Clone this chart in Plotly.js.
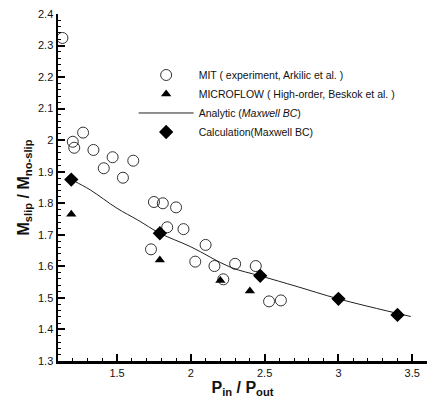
<!DOCTYPE html>
<html><head><meta charset="utf-8">
<script src="https://cdn.plot.ly/plotly-3.0.1.min.js"></script>
<style>body{margin:0;background:#fff}#c{width:446px;height:401px}</style>
</head><body><div id="c"></div>
<script>
// MIT experiment (Arkilic et al.)
const mitX = [1.13,1.27,1.20,1.21,1.34,1.47,1.41,1.61,1.54,1.75,1.81,1.90,1.84,1.95,1.73,2.10,2.03,2.16,2.22,2.30,2.44,2.53,2.61];
const mitY = [2.324,2.024,1.995,1.976,1.969,1.946,1.911,1.935,1.881,1.804,1.800,1.787,1.724,1.718,1.654,1.668,1.615,1.601,1.559,1.608,1.601,1.489,1.492];
// MICROFLOW (High-order, Beskok et al.)
const mfX = [1.19,1.79,2.20,2.40];
const mfY = [1.765,1.620,1.555,1.522];
// Analytic (Maxwell BC)
const anX = [1.19,1.22,1.32,1.50,1.64,1.79,2.00,2.27,2.47,2.72,3.00,3.49];
const anY = [1.876,1.868,1.842,1.784,1.747,1.705,1.662,1.597,1.570,1.536,1.497,1.441];
// Calculation (Maxwell BC)
const calX = [1.19,1.79,2.47,3.00,3.40];
const calY = [1.875,1.705,1.570,1.497,1.446];

const traces = [
  {x: mitX, y: mitY, type:'scatter', mode:'markers', name:'MIT ( experiment, Arkilic et al. )',
   marker:{symbol:'circle-open', size:11, color:'#333', line:{width:1}}},
  {x: mfX, y: mfY, type:'scatter', mode:'markers', name:'MICROFLOW ( High-order, Beskok et al. )',
   marker:{symbol:'triangle-up', size:9, color:'#000'}},
  {x: anX, y: anY, type:'scatter', mode:'lines', name:'Analytic (<i>Maxwell BC</i>)',
   line:{color:'#222', width:1, shape:'spline'}},
  {x: calX, y: calY, type:'scatter', mode:'markers', name:'Calculation(Maxwell BC)',
   marker:{symbol:'diamond', size:11, color:'#000'}}
];

const layout = {
  width:446, height:401,
  margin:{l:58, r:19, t:14, b:40},
  paper_bgcolor:'#fff', plot_bgcolor:'#fff',
  font:{family:'Liberation Sans, Arial, sans-serif', color:'#111', size:11},
  showlegend:true,
  legend:{x:0.205, y:0.866, xanchor:'left', yanchor:'top', bgcolor:'rgba(0,0,0,0)',
          font:{size:10.5}, itemwidth:55, tracegroupgap:0},
  xaxis:{range:[1.1,3.6], dtick:0.5, tick0:1.5, showgrid:false, zeroline:false,
         showline:true, linewidth:2.5, linecolor:'#000',
         ticks:'inside', ticklen:7, tickwidth:2, tickcolor:'#000',
         minor:{dtick:0.1, ticks:'inside', ticklen:3, tickwidth:1, tickcolor:'#000'},
         tickfont:{size:11},
         title:{text:'<b>P<sub>in</sub> / P<sub>out</sub></b>', font:{size:16}, standoff:0}},
  yaxis:{range:[1.3,2.4], dtick:0.1, showgrid:false, zeroline:false,
         showline:true, linewidth:2.5, linecolor:'#000',
         ticks:'inside', ticklen:7, tickwidth:2, tickcolor:'#000',
         minor:{dtick:0.02, ticks:'inside', ticklen:3, tickwidth:1, tickcolor:'#000'},
         tickfont:{size:11},
         title:{text:'<b>M<sub>slip</sub> / M<sub>no-slip</sub></b>', font:{size:16}, standoff:5}}
};
Plotly.newPlot('c', traces, layout, {displayModeBar:false, staticPlot:true});
</script></body></html>
